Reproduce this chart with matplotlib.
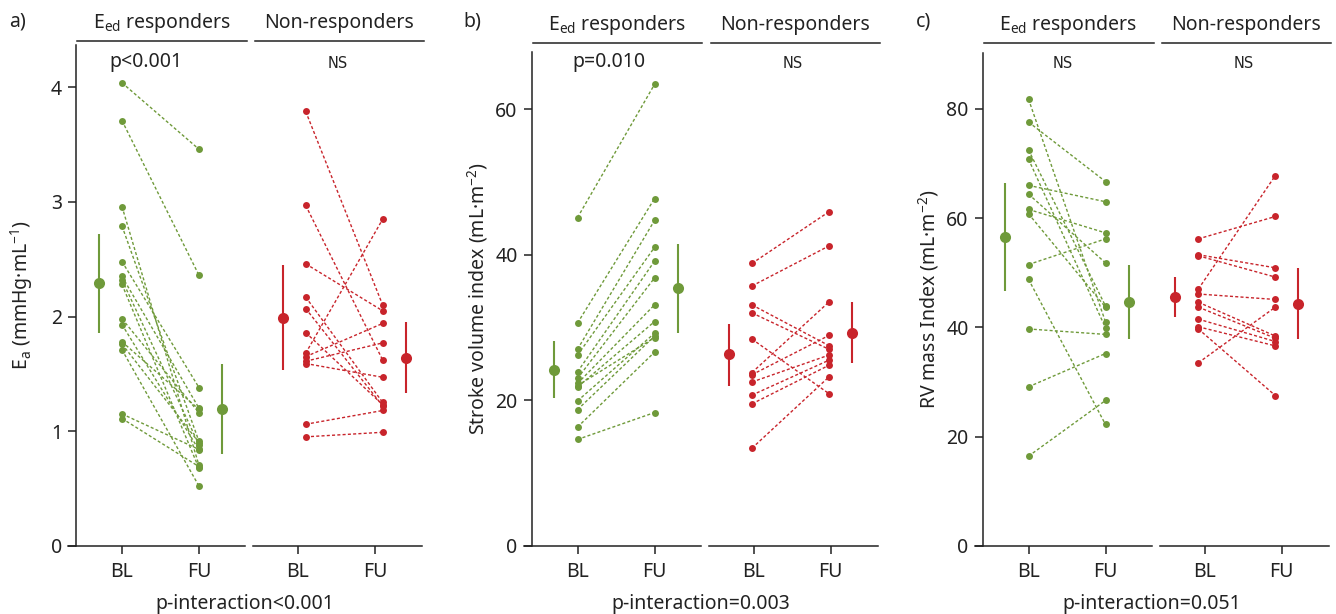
import matplotlib
matplotlib.use('Agg')
import matplotlib.pyplot as plt
from matplotlib.lines import Line2D

plt.rcParams['font.family'] = ['Noto Sans', 'DejaVu Sans']
plt.rcParams['mathtext.default'] = 'regular'

# ---- data ----
groups = ['E$_{ed}$ responders', 'Non-responders']
times = ['BL', 'FU']

# a) Ea
ea_resp_bl = [4.04, 3.71, 2.96, 2.79, 2.48, 2.35, 2.32, 2.28, 1.98, 1.93, 1.78, 1.76, 1.71, 1.15, 1.11]
ea_resp_fu = [3.46, 2.36, 0.70, 0.91, 1.38, 1.20, 0.88, 0.675, 1.16, 0.835, 1.19, 0.90, 0.52, 0.84, 0.69]
ea_resp_mean = [2.29, 1.19]
ea_resp_lo = [1.86, 0.80]
ea_resp_hi = [2.72, 1.59]
ea_non_bl = [3.79, 2.97, 2.46, 2.17, 2.07, 1.86, 1.68, 1.65, 1.61, 1.59, 1.06, 0.95]
ea_non_fu = [2.10, 1.62, 2.05, 1.25, 1.22, 1.23, 2.85, 1.94, 1.77, 1.47, 1.18, 0.99]
ea_non_mean = [1.99, 1.64]
ea_non_lo = [1.53, 1.33]
ea_non_hi = [2.45, 1.95]

# b) stroke volume index
sv_resp_bl = [45.1, 30.6, 27.0, 26.2, 23.9, 23.0, 22.3, 21.8, 19.9, 18.7, 16.3, 14.6, 22.0]
sv_resp_fu = [63.4, 47.7, 44.7, 41.0, 39.1, 36.8, 33.1, 30.8, 29.2, 28.8, 26.6, 18.3, 28.6]
sv_resp_mean = [24.2, 35.4]
sv_resp_lo = [20.3, 29.3]
sv_resp_hi = [28.2, 41.4]
sv_non_bl = [38.8, 35.7, 33.1, 32.0, 28.4, 23.8, 23.5, 22.5, 20.7, 19.5, 13.4]
sv_non_fu = [45.9, 41.2, 27.5, 27.0, 20.9, 33.5, 28.9, 26.2, 25.5, 24.8, 23.2]
sv_non_mean = [26.3, 29.3]
sv_non_lo = [22.0, 25.1]
sv_non_hi = [30.5, 33.5]

# c) RV mass index
rv_resp_bl = [81.8, 77.6, 72.5, 70.8, 66.0, 64.4, 61.6, 60.8, 51.5, 48.8, 39.7, 29.1, 16.4]
rv_resp_fu = [41.0, 66.7, 43.9, 39.9, 63.0, 51.8, 57.3, 43.7, 56.2, 22.2, 38.7, 35.2, 26.6]
rv_resp_mean = [56.6, 44.7]
rv_resp_lo = [46.7, 37.8]
rv_resp_hi = [66.5, 51.5]
rv_non_bl = [56.2, 53.3, 53.1, 47.0, 46.1, 44.6, 43.7, 41.5, 40.1, 39.7, 33.5]
rv_non_fu = [60.3, 50.9, 49.2, 67.8, 45.1, 38.4, 38.0, 37.4, 36.6, 27.5, 43.7]
rv_non_mean = [45.5, 44.2]
rv_non_lo = [41.8, 37.8]
rv_non_hi = [49.3, 50.8]

panels = [
    dict(letter='a)', ylabel='E$_a$ (mmHg·mL$^{-1}$)', yticks=[0, 1, 2, 3, 4], ymax=4.37,
         ptext=['p<0.001', 'NS'], xlabel='p-interaction<0.001',
         resp=(ea_resp_bl, ea_resp_fu, ea_resp_mean, ea_resp_lo, ea_resp_hi),
         non=(ea_non_bl, ea_non_fu, ea_non_mean, ea_non_lo, ea_non_hi)),
    dict(letter='b)', ylabel='Stroke volume index (mL·m$^{-2}$)', yticks=[0, 20, 40, 60], ymax=67.9,
         ptext=['p=0.010', 'NS'], xlabel='p-interaction=0.003',
         resp=(sv_resp_bl, sv_resp_fu, sv_resp_mean, sv_resp_lo, sv_resp_hi),
         non=(sv_non_bl, sv_non_fu, sv_non_mean, sv_non_lo, sv_non_hi)),
    dict(letter='c)', ylabel='RV mass Index (mL·m$^{-2}$)', yticks=[0, 20, 40, 60, 80], ymax=90.3,
         ptext=['NS', 'NS'], xlabel='p-interaction=0.051',
         resp=(rv_resp_bl, rv_resp_fu, rv_resp_mean, rv_resp_lo, rv_resp_hi),
         non=(rv_non_bl, rv_non_fu, rv_non_mean, rv_non_lo, rv_non_hi)),
]

# ---- layout (pixels) ----
W, H = 1336, 614
spine_x = [76, 531.5, 982.5]
axis_top = [45, 51.7, 52.7]
head_y = [41, 43.3, 43.3]
non_shift = [0.1, -0.02, -0.08]
y_bot = 545.7
px_unit = 77.0

green = '#6f9a3a'
red = '#c8242b'
ink = '#222222'
fs = 14


def rect(x0, x1, yt, yb):
    return [x0 / W, 1 - yb / H, (x1 - x0) / W, (yb - yt) / H]


def fx(x):
    return x / W


def fy(y):
    return 1 - y / H


fig = plt.figure(figsize=(W / 100, H / 100), dpi=100)

for k, p in enumerate(panels):
    sx = spine_x[k]
    top = axis_top[k]
    # (axes left, axes right, BL tick) relative to the y-axis spine
    sub = [(-8, 169, 46), (177, 346, 222)]
    for g in range(2):
        a0, a1, t1 = sub[g]
        ax = fig.add_axes(rect(sx + a0, sx + a1, top, y_bot))
        ax.set_xlim(1 - (t1 - a0) / px_unit, 1 + (a1 - t1) / px_unit)
        ax.set_ylim(0, p['ymax'])
        col = green if g == 0 else red
        bl, fu, mean, lo, hi = p['resp'] if g == 0 else p['non']
        s = 0.0 if g == 0 else non_shift[k]
        for b, f in zip(bl, fu):
            ax.plot([1 + s, 2 + s], [b, f], color=col, lw=1.0, ls=(0, (2.2, 1.6)),
                    marker='o', ms=5, mec='none')
        mx = [0.7 + s, 2.3 + s]
        ax.vlines(mx, lo, hi, color=col, lw=1.5)
        ax.plot(mx, mean, 'o', color=col, ms=8, mec='none', ls='none')

        for side in ['top', 'right']:
            ax.spines[side].set_visible(False)
        ax.spines['bottom'].set_linewidth(1.1)
        ax.spines['bottom'].set_color(ink)
        ax.set_xticks([1, 2])
        ax.set_xticklabels(times, fontsize=fs, color=ink)
        ax.tick_params(axis='x', length=6, width=1.1, color=ink, pad=6)
        if g == 0:
            ax.spines['left'].set_position(('axes', 8 / 177))
            ax.spines['left'].set_linewidth(1.1)
            ax.spines['left'].set_color(ink)
            ax.set_yticks(p['yticks'])
            ax.set_yticklabels([str(v) for v in p['yticks']], fontsize=fs, color=ink)
            ax.tick_params(axis='y', length=6, width=1.1, color=ink, pad=4)
        else:
            ax.spines['left'].set_visible(False)
            ax.set_yticks([])

        # p-value / NS text
        if p['ptext'][g] == 'NS':
            fig.text(fx(sx + (a0 + a1) / 2), fy(63), 'NS', ha='center', va='center',
                     fontsize=10.5, family='DejaVu Sans', color=ink)
        else:
            cx = sx + (a0 + a1) / 2 - (11 if k == 0 else 3)
            fig.text(fx(cx), fy(62.5), p['ptext'][g], ha='center', va='center',
                     fontsize=fs, color=ink)

        # group header with underline
        h0, h1 = (sx + 1, sx + 171) if g == 0 else (sx + 179, sx + 348)
        hy = head_y[k]
        fig.add_artist(Line2D([fx(h0), fx(h1)], [fy(hy), fy(hy)], color=ink, lw=1.1))
        fig.text(fx((h0 + h1) / 2), fy(hy - 13), groups[g], ha='center', va='baseline',
                 fontsize=fs, color=ink)

    fig.text(fx(sx - 59), fy(22), p['letter'], ha='center', va='center', fontsize=fs, color=ink)
    fig.text(fx(sx - 54), fy((top + y_bot) / 2), p['ylabel'], rotation=90,
             ha='center', va='center', fontsize=fs, color=ink)
    fig.text(fx(sx + 169), fy(604), p['xlabel'], ha='center', va='center',
             fontsize=fs, color=ink)

fig.savefig('out.png', dpi=100)
